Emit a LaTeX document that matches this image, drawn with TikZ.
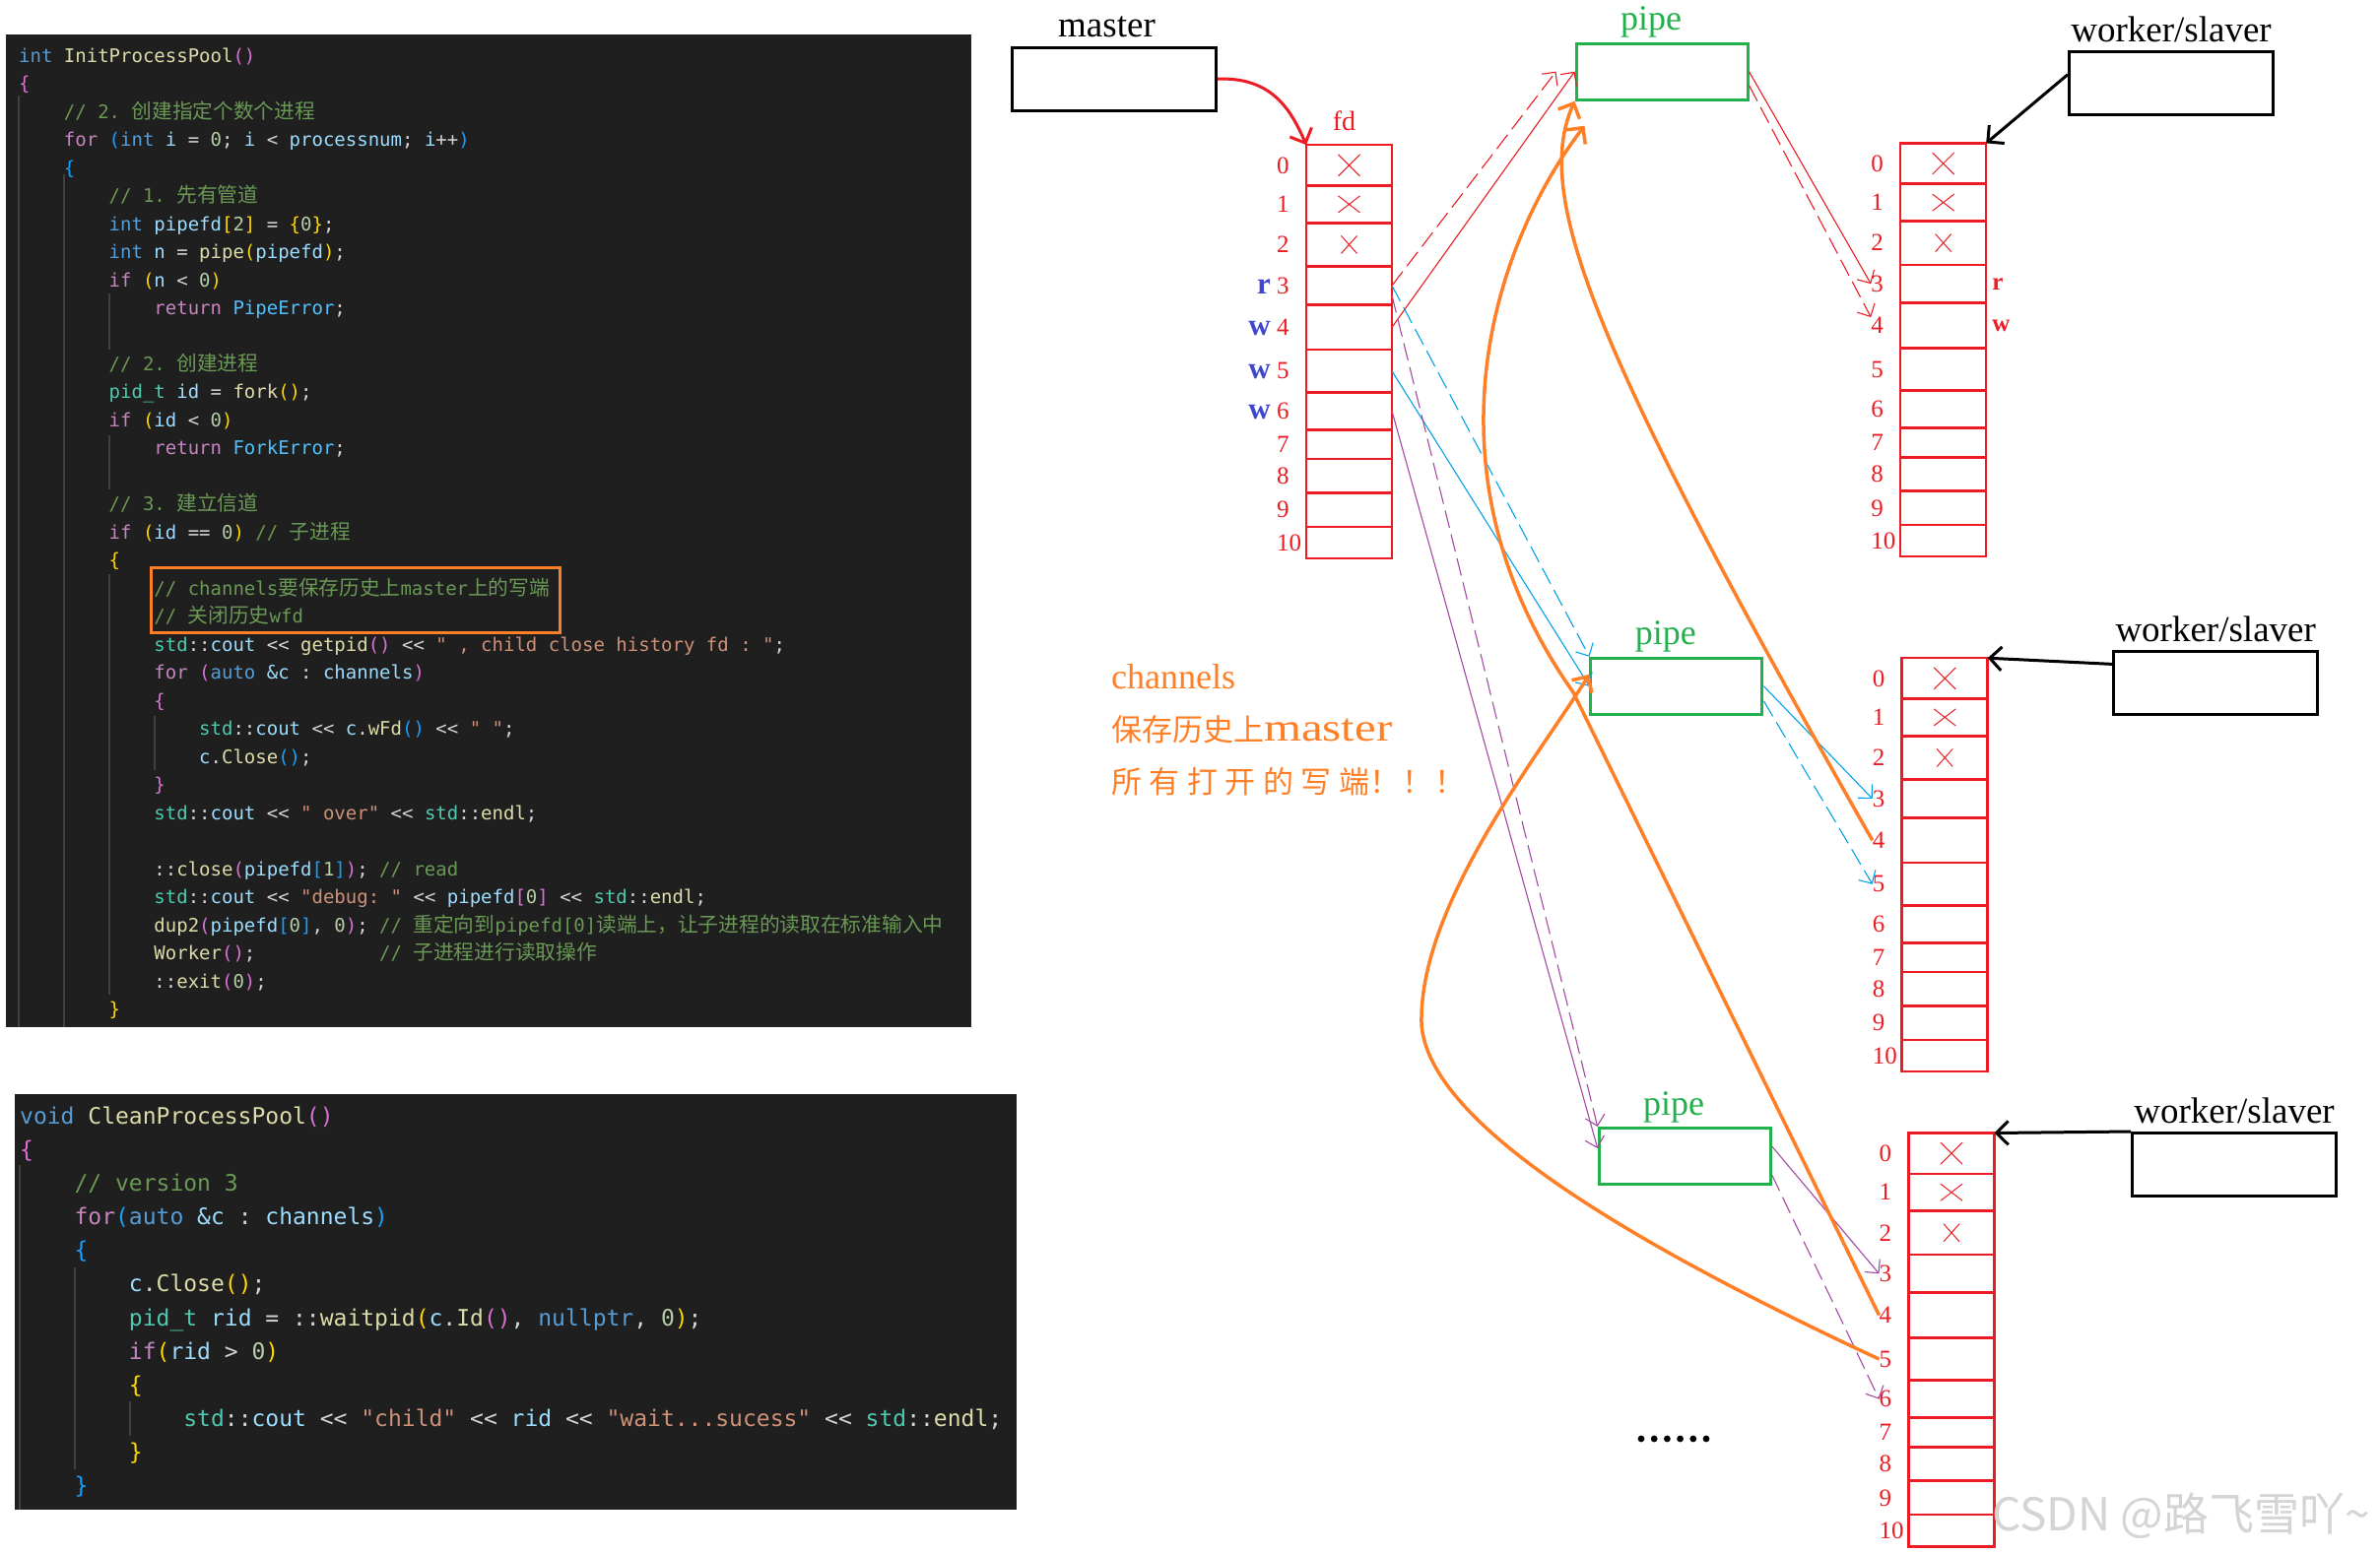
\documentclass[tikz,border=0pt]{standalone}
\usepackage{fontspec}
\usepackage{graphicx}
\setmainfont{Liberation Serif}
\setmonofont{DejaVu Sans Mono}
\newfontfamily\cjk{Noto Sans CJK SC}[Scale=1.09]
\newfontfamily\cjkbig{Noto Sans CJK SC}
\usetikzlibrary{arrows.meta,positioning}
\definecolor{fdRed}{HTML}{ED1C24}
\definecolor{pipeGreen}{HTML}{22B14C}
\definecolor{histOrange}{HTML}{FF7F27}
\definecolor{chCyan}{HTML}{00A2E8}
\definecolor{chPurple}{HTML}{A349A4}
\definecolor{rwBlue}{HTML}{3F48CC}
\definecolor{codeBg}{HTML}{1F1F1F}
\definecolor{codeFg}{HTML}{D4D4D4}
\definecolor{codeGuide}{HTML}{404040}
\definecolor{cdKey}{HTML}{569CD6}
\definecolor{cdCtl}{HTML}{C586C0}
\definecolor{cdFun}{HTML}{DCDCAA}
\definecolor{cdVar}{HTML}{9CDCFE}
\definecolor{cdCom}{HTML}{6A9955}
\definecolor{cdStr}{HTML}{CE9178}
\definecolor{cdNum}{HTML}{B5CEA8}
\definecolor{cdType}{HTML}{4EC9B0}
\definecolor{cdEnum}{HTML}{4FC1FF}
\definecolor{brGold}{HTML}{FFD700}
\definecolor{brPink}{HTML}{DA70D6}
\definecolor{brBlue}{HTML}{179FFF}
\definecolor{wmGray}{HTML}{D4D4D4}
\tikzset{
  codetxt/.style={font=\ttfamily\fontsize{19}{28.48}\selectfont,text=codeFg,align=left,inner sep=0pt},
  guide/.style={draw=codeGuide,line width=1.5pt},
  notebox/.style={draw=histOrange,line width=3pt},
  procbox/.style={draw=black,line width=3pt,minimum width=207pt,minimum height=64pt,inner sep=0pt},
  pipebox/.style={draw=pipeGreen,line width=3pt,minimum width=174pt,minimum height=57pt,inner sep=0pt},
  fdcell/.style={draw=fdRed,line width=2.5pt,minimum width=87pt,inner sep=0pt,outer sep=0pt,anchor=north west},
  fdnum/.style={text=fdRed,font=\fontsize{25}{25}\selectfont,inner sep=0pt,anchor=west},
  proclbl/.style={font=\fontsize{37}{37}\selectfont,inner sep=0pt},
  pipelbl/.style={text=pipeGreen,font=\fontsize{36}{36}\selectfont,inner sep=0pt},
  rwlbl/.style={font=\bfseries\fontsize{31}{31}\selectfont,inner sep=0pt},
  xmark/.style={draw=fdRed,line width=1pt},
  thinarr/.style={-{Straight Barb[length=10pt,width=20pt]},line width=1.1pt},
  rdash/.style={dash pattern=on 18pt off 7pt},
  ownarr/.style={-{Straight Barb[length=12pt,width=24pt]},line width=3pt},
  histarr/.style={draw=histOrange,line width=3.5pt,-{Straight Barb[length=12pt,width=24pt]}},
  annot/.style={text=histOrange,font=\fontsize{36}{36}\selectfont,inner sep=0pt,anchor=base west},
  wmark/.style={text=wmGray,font=\cjkbig\fontsize{46}{46}\selectfont,inner sep=0pt},
}
% code colouring
\newcommand{\kwd}[1]{\textcolor{cdKey}{#1}}
\newcommand{\kctl}[1]{\textcolor{cdCtl}{#1}}
\newcommand{\kfun}[1]{\textcolor{cdFun}{#1}}
\newcommand{\kvar}[1]{\textcolor{cdVar}{#1}}
\newcommand{\kcom}[1]{\textcolor{cdCom}{#1}}
\newcommand{\kstr}[1]{\textcolor{cdStr}{#1}}
\newcommand{\knum}[1]{\textcolor{cdNum}{#1}}
\newcommand{\ktyp}[1]{\textcolor{cdType}{#1}}
\newcommand{\kenm}[1]{\textcolor{cdEnum}{#1}}
\newcommand{\kbg}[1]{\textcolor{brGold}{#1}}
\newcommand{\kbp}[1]{\textcolor{brPink}{#1}}
\newcommand{\kbb}[1]{\textcolor{brBlue}{#1}}
\newcommand{\ind}[1]{\hspace*{#1\dimexpr4\fontcharwd\font`0\relax}}
% fd table: name, left x, top y
\newcommand{\fdtable}[3]{%
  \foreach \i/\a/\b in {0/0/41.3,1/41.3/79.1,2/79.1/123.4,3/123.4/162.2,4/162.2/208,
      5/208/251.2,6/251.2/289.2,7/289.2/318.9,8/318.9/353.2,9/353.2/387.7,10/387.7/419.8}{
    \node[fdcell,minimum height={(\b-\a)*1pt}] (#1-\i) at (#2,#3+\a) {};
    \node[fdnum] (#1-n\i) at (#2-30,#3+0.5*\a+0.5*\b) {\i};
  }
}
\newcommand{\fdcross}[3]{\draw[xmark] ([xshift=-#2pt,yshift=#3pt]#1.center) -- ([xshift=#2pt,yshift=-#3pt]#1.center)
  ([xshift=-#2pt,yshift=-#3pt]#1.center) -- ([xshift=#2pt,yshift=#3pt]#1.center);}

\begin{document}
\begin{tikzpicture}[x=1pt,y=-1pt]
  \fill[white] (0,0) rectangle (2416,1578);
  \useasboundingbox (0,0) rectangle (2416,1578);

  % code screenshots
  \fill[codeBg] (6,35) rectangle (986,1043);
  \fill[codeBg] (15,1111) rectangle (1032,1533);
  \draw[guide] (19,97) -- (19,1043) (65,177) -- (65,1043)
    (111,298) -- (111,355) (111,442) -- (111,497) (111,583) -- (111,1010)
    (157,727) -- (157,782);
  \draw[guide] (20,1183) -- (20,1533) (76,1287) -- (76,1492) (132,1423) -- (132,1458);
  \node[codetxt,anchor=north west] (initcode) at (19,43) {\rule{0pt}{20pt}\kwd{int} \kfun{InitProcessPool}\kbp{()}\\
    \kbp{\{}\\
    \ind{1}\kcom{// 2. {\cjk 创建指定个数个进程}}\\
    \ind{1}\kctl{for} \kbb{(}\kwd{int} \kvar{i} = \knum{0}; \kvar{i} < \kvar{processnum}; \kvar{i}++\kbb{)}\\
    \ind{1}\kbb{\{}\\
    \ind{2}\kcom{// 1. {\cjk 先有管道}}\\
    \ind{2}\kwd{int} \kvar{pipefd}\kbg{[}\knum{2}\kbg{]} = \kbg{\{}\knum{0}\kbg{\}};\\
    \ind{2}\kwd{int} \kvar{n} = \kfun{pipe}\kbg{(}\kvar{pipefd}\kbg{)};\\
    \ind{2}\kctl{if} \kbg{(}\kvar{n} < \knum{0}\kbg{)}\\
    \ind{3}\kctl{return} \kenm{PipeError};\\
    \mbox{}\\
    \ind{2}\kcom{// 2. {\cjk 创建进程}}\\
    \ind{2}\ktyp{pid\_t} \kvar{id} = \kfun{fork}\kbg{()};\\
    \ind{2}\kctl{if} \kbg{(}\kvar{id} < \knum{0}\kbg{)}\\
    \ind{3}\kctl{return} \kenm{ForkError};\\
    \mbox{}\\
    \ind{2}\kcom{// 3. {\cjk 建立信道}}\\
    \ind{2}\kctl{if} \kbg{(}\kvar{id} == \knum{0}\kbg{)} \kcom{// {\cjk 子进程}}\\
    \ind{2}\kbg{\{}\\
    \ind{3}\kcom{// channels{\cjk 要保存历史上}master{\cjk 上的写端}}\\
    \ind{3}\kcom{// {\cjk 关闭历史}wfd}\\
    \ind{3}\ktyp{std}::\kvar{cout} << \kfun{getpid}\kbp{()} << \kstr{" , child close history fd : "};\\
    \ind{3}\kctl{for} \kbp{(}\kwd{auto} \kvar{\&c} : \kvar{channels}\kbp{)}\\
    \ind{3}\kbp{\{}\\
    \ind{4}\ktyp{std}::\kvar{cout} << \kvar{c}.\kfun{wFd}\kbb{()} << \kstr{" "};\\
    \ind{4}\kvar{c}.\kfun{Close}\kbb{()};\\
    \ind{3}\kbp{\}}\\
    \ind{3}\ktyp{std}::\kvar{cout} << \kstr{" over"} << \ktyp{std}::\kfun{endl};\\
    \mbox{}\\
    \ind{3}::\kfun{close}\kbp{(}\kvar{pipefd}\kbb{[}\knum{1}\kbb{]}\kbp{)}; \kcom{// read}\\
    \ind{3}\ktyp{std}::\kvar{cout} << \kstr{"debug: "} << \kvar{pipefd}\kbp{[}\knum{0}\kbp{]} << \ktyp{std}::\kfun{endl};\\
    \ind{3}\kfun{dup2}\kbp{(}\kvar{pipefd}\kbb{[}\knum{0}\kbb{]}, \knum{0}\kbp{)}; \kcom{// {\cjk 重定向到}pipefd[0]{\cjk 读端上，让子进程的读取在标准输入中}}\\
    \ind{3}\kfun{Worker}\kbp{()};~~~~~~~~~~~\kcom{// {\cjk 子进程进行读取操作}}\\
    \ind{3}::\kfun{exit}\kbp{(}\knum{0}\kbp{)};\\
    \ind{2}\kbg{\}}};
  \node[codetxt,font=\ttfamily\fontsize{23}{34.09}\selectfont,anchor=north west] (cleancode) at (20,1119.3)
    {\rule{0pt}{22pt}\kwd{void} \kfun{CleanProcessPool}\kbp{()}\\
    \kbp{\{}\\
    \ind{1}\kcom{// version 3}\\
    \ind{1}\kctl{for}\kbb{(}\kwd{auto} \kvar{\&c} : \kvar{channels}\kbb{)}\\
    \ind{1}\kbb{\{}\\
    \ind{2}\kvar{c}.\kfun{Close}\kbg{()};\\
    \ind{2}\ktyp{pid\_t} \kvar{rid} = ::\kfun{waitpid}\kbg{(}\kvar{c}.\kfun{Id}\kbp{()}, \kwd{nullptr}, \knum{0}\kbg{)};\\
    \ind{2}\kctl{if}\kbg{(}\kvar{rid} > \knum{0}\kbg{)}\\
    \ind{2}\kbg{\{}\\
    \ind{3}\ktyp{std}::\kvar{cout} << \kstr{"child"} << \kvar{rid} << \kstr{"wait...sucess"} << \ktyp{std}::\kfun{endl};\\
    \ind{2}\kbg{\}}\\
    \ind{1}\kbb{\}}};
  \draw[notebox] (153,576) rectangle (568,642);

  % processes and pipes
  \node[procbox] (mstbox) at (1131,80.2) {};
  \node[proclbl,above=9pt of mstbox,xshift=-7.5pt] (mstlbl) {master};
  \node[procbox] (wkA) at (2204,84.7) {};
  \node[proclbl,above=8pt of wkA] (wkAlbl) {worker/slaver};
  \node[procbox] (wkB) at (2249.2,693.4) {};
  \node[proclbl,above=8pt of wkB] (wkBlbl) {worker/slaver};
  \node[procbox] (wkC) at (2268,1182.5) {};
  \node[proclbl,above=8pt of wkC] (wkClbl) {worker/slaver};
  \node[pipebox] (pipeA) at (1687,72.7) {};
  \node[pipelbl,above=4.5pt of pipeA,xshift=-11pt] (pipeAlbl) {pipe};
  \node[pipebox] (pipeB) at (1701.9,696.8) {};
  \node[pipelbl,above=4pt of pipeB,xshift=-11pt] (pipeBlbl) {pipe};
  \node[pipebox] (pipeC) at (1710.2,1174) {};
  \node[pipelbl,above=4pt of pipeC,xshift=-11pt] (pipeClbl) {pipe};

  % fd tables
  \fdtable{M}{1326}{147.2}
  \fdtable{A}{1929.2}{145.4}
  \fdtable{B}{1930.7}{668.2}
  \fdtable{C}{1937.5}{1150.5}
  \foreach \t in {M,A,B,C}{
    \fdcross{\t-0}{11}{11}
    \fdcross{\t-1}{11}{8.5}
    \fdcross{\t-2}{8}{9}
  }
  \node[fdnum,anchor=south,font=\fontsize{28}{28}\selectfont,above=14pt of M-0,xshift=-5pt] (fdlbl) {fd};
  \node[rwlbl,text=rwBlue,base left=6pt of M-n3] (M-r3) {r};
  \node[rwlbl,text=rwBlue,base left=6pt of M-n4] (M-w4) {w};
  \node[rwlbl,text=rwBlue,base left=6pt of M-n5] (M-w5) {w};
  \node[rwlbl,text=rwBlue,base left=6pt of M-n6] (M-w6) {w};
  \node[rwlbl,font=\bfseries\fontsize{25}{25}\selectfont,text=fdRed,right=6pt of A-3] (A-r3) {r};
  \node[rwlbl,font=\bfseries\fontsize{25}{25}\selectfont,text=fdRed,right=6pt of A-4] (A-w4) {w};

  % who owns which table
  \draw[ownarr,fdRed] (mstbox.east) .. controls (1290,78) and (1310,110) .. (M-0.north west);
  \draw[ownarr] ([yshift=9pt]wkA.west) -- (A-0.north east);
  \draw[ownarr] ([yshift=19pt]wkB.west) -- (B-0.north east);
  \draw[ownarr] (wkC.north west) -- (C-0.north east);

  % pipe ends
  \draw[thinarr,fdRed,rdash] (M-3.east) -- ([xshift=-19pt]pipeA.west);
  \draw[thinarr,fdRed] (M-4.east) -- (pipeA.west);
  \draw[thinarr,fdRed] (pipeA.east) -- (A-n3.west);
  \draw[thinarr,fdRed,rdash] ([yshift=-14pt]pipeA.east) -- (A-n4.north west);
  \draw[thinarr,chCyan,rdash] (M-3.east) -- (pipeB.north west);
  \draw[thinarr,chCyan] (M-5.east) -- (pipeB.west);
  \draw[thinarr,chCyan] (pipeB.east) -- (B-n3.west);
  \draw[thinarr,chCyan,rdash] ([yshift=-15pt]pipeB.east) -- (B-n5.west);
  \draw[thinarr,chPurple,rdash] ([yshift=-10pt]M-3.east) -- (pipeC.north west);
  \draw[thinarr,chPurple] (M-6.east) -- ([yshift=8pt]pipeC.west);
  \draw[thinarr,chPurple] ([yshift=10pt]pipeC.east) -- (C-n3.west);
  \draw[thinarr,chPurple,rdash] ([yshift=-19pt]pipeC.east) -- (C-n6.west);

  % inherited write ends
  \coordinate (ybend) at (1597,703);
  \coordinate (zbend) at (1443,1040);
  \draw[histarr] (B-n4.west) .. controls (1620,360) and (1555,200) .. (pipeA.south west);
  \draw[histarr] (C-n4.west) -- (ybend) .. controls (1440,480) and (1515,250) .. ([xshift=10pt,yshift=-25pt]pipeA.south west);
  \draw[histarr] (C-n5.west) .. controls (1650,1260) and (1450,1140) .. (zbend)
    .. controls (1440,920) and (1560,770) .. ([yshift=12pt]pipeB.west);

  \node[annot] (chnA) at (1128,699) {channels};
  \node[annot] (chnB) at (1128,752) {{\cjkbig\fontsize{31}{31}\selectfont 保存历史上}\scalebox{1.22}[1]{\fontsize{40}{40}\selectfont master}};
  \node[annot] (chnC) at (1128,805) {\cjkbig\fontsize{31}{31}\selectfont 所\hspace{7.5pt}有\hspace{7.5pt}打\hspace{7.5pt}开\hspace{7.5pt}的\hspace{7.5pt}写\hspace{7.5pt}端！\hspace{2pt}！\hspace{2pt}！};

  \foreach \k in {0,...,5}
    \fill (1666+13.2*\k,1461) circle (3.4pt);

  \node[wmark] (wm) at (2214,1539) {CSDN @路飞雪吖\textasciitilde};
\end{tikzpicture}
\end{document}
